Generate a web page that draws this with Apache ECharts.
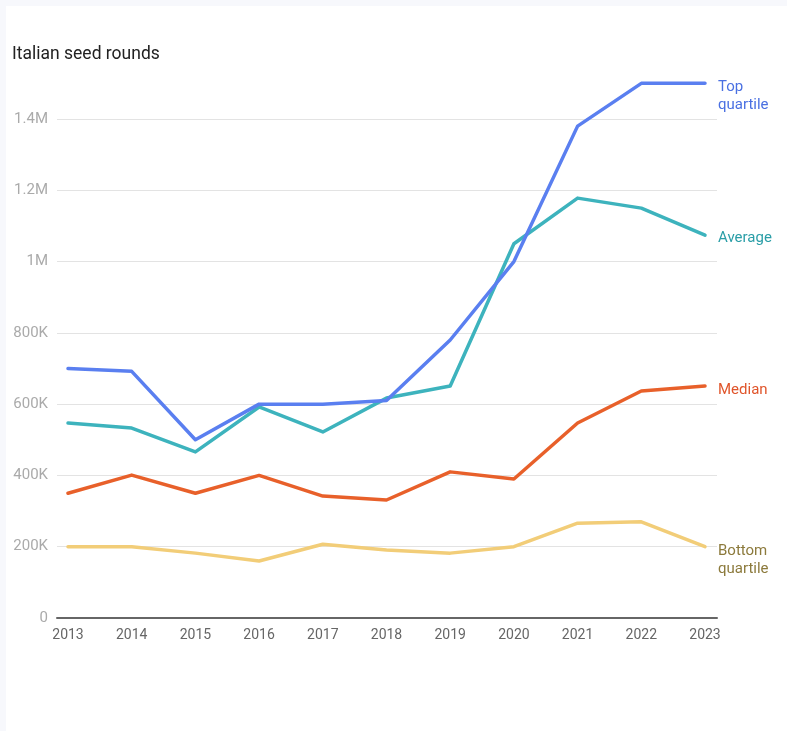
<!DOCTYPE html>
<html>
<head>
<meta charset="utf-8">
<script src="https://cdn.jsdelivr.net/npm/echarts@6/dist/echarts.min.js"></script>
<style>
html,body{margin:0;padding:0;background:#f7f8fc;}
#c{position:absolute;left:6px;top:6px;width:781px;height:725px;background:#fff;}
</style>
</head>
<body>
<div id="c"></div>
<script>
var years = ['2013','2014','2015','2016','2017','2018','2019','2020','2021','2022','2023'];
var topQuartile = [700000, 692000, 500000, 600000, 600000, 610000, 780000, 1000000, 1380000, 1500000, 1500000];
var average = [547000, 533000, 466000, 592000, 522000, 617000, 651000, 1050000, 1178000, 1150000, 1074000];
var median = [350000, 401000, 350000, 400000, 342000, 331000, 410000, 390000, 547000, 637000, 651000];
var bottomQuartile = [200000, 200000, 182000, 160000, 207000, 191000, 182000, 200000, 266000, 270000, 200000];
var yTicks = ['0', '200K', '400K', '600K', '800K', '1M', '1.2M', '1.4M'];

var chart = echarts.init(document.getElementById('c'), null, {renderer: 'canvas'});
var font = 'Roboto, "Noto Sans", sans-serif';

function mkSeries(name, data, color, labelColor, label, offY) {
  return {
    name: name, type: 'line', data: data, xAxisIndex: 1, yAxisIndex: 1,
    symbol: 'none', clip: false,
    lineStyle: {color: color, width: 3.5, cap: 'round', join: 'round'},
    itemStyle: {color: color},
    endLabel: {
      show: true, formatter: label, color: labelColor, fontSize: 15, fontFamily: font,
      lineHeight: 18, distance: 13, offset: [0, offY], align: 'left'
    },
    emphasis: {disabled: true}
  };
}

var option = {
  animation: false,
  title: {
    text: 'Italian seed rounds', left: 1, top: 35,
    textStyle: {fontSize: 17.5, fontWeight: 'normal', color: '#222', fontFamily: font}
  },
  grid: [
    {left: 51, right: 70, top: 113, bottom: 113},
    {left: 62, right: 82, top: 113, bottom: 113}
  ],
  xAxis: [
    {gridIndex: 0, type: 'value', min: 0, max: 1, axisLabel: {show: false}, axisTick: {show: false}, splitLine: {show: false},
     axisLine: {show: true, lineStyle: {color: '#666', width: 2}}},
    {gridIndex: 1, type: 'category', data: years, boundaryGap: false,
     axisLine: {show: false}, axisTick: {show: false}, splitLine: {show: false},
     axisLabel: {color: '#666', fontSize: 14, fontFamily: font, margin: 10, interval: 0}}
  ],
  yAxis: [
    {gridIndex: 0, type: 'value', min: 0, max: 1400000, interval: 200000,
     axisLine: {show: false}, axisTick: {show: false},
     splitLine: {show: true, lineStyle: {color: '#e3e3e3', width: 1}},
     axisLabel: {color: '#aaa', fontSize: 15, fontFamily: font, margin: 9,
       formatter: function (v) { return yTicks[Math.round(v / 200000)]; }}},
    {gridIndex: 1, type: 'value', min: 0, max: 1400000, show: false}
  ],
  series: [
    mkSeries('Bottom quartile', bottomQuartile, '#f2cd78', '#8c7a3c', 'Bottom\nquartile', 14),
    mkSeries('Median', median, '#e8602a', '#e0552b', 'Median', 4),
    mkSeries('Average', average, '#3db3bd', '#2a9ea7', 'Average', 3),
    mkSeries('Top quartile', topQuartile, '#5a7ff0', '#4a70e2', 'Top\nquartile', 13)
  ]
};
chart.setOption(option);
</script>
</body>
</html>
